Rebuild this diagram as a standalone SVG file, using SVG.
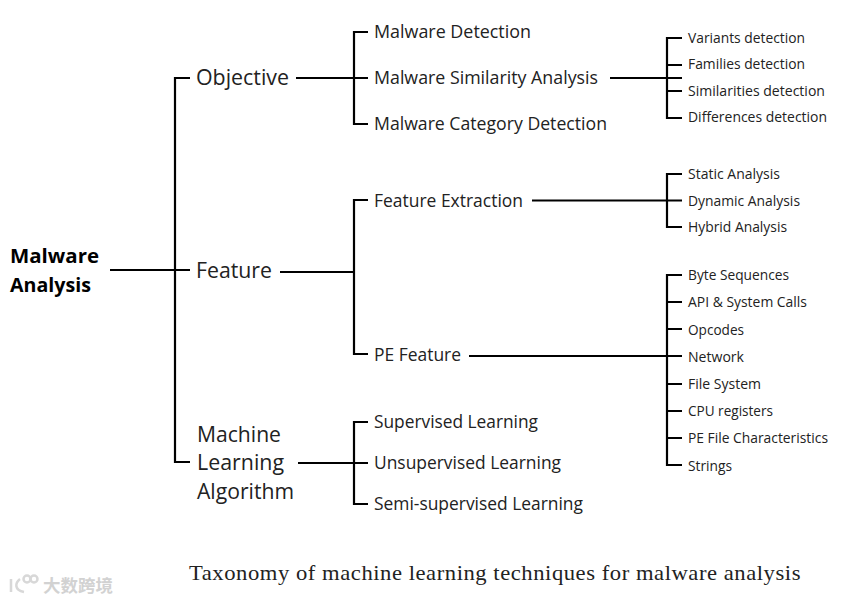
<svg xmlns="http://www.w3.org/2000/svg" width="858" height="602" viewBox="0 0 858 602">
<style>
text{font-family:"Open Sans","Noto Sans",sans-serif;fill:#222}
.a{font-size:21.5px}.b{font-size:18px}.c{font-size:14px}
.r{font-size:20px;font-weight:bold;fill:#000}
.cap{font-family:"Liberation Serif",serif;font-size:21px;letter-spacing:.5px;fill:#222}
.w{font-size:17.5px;fill:#d2d2d2;font-weight:bold;font-family:"Noto Sans CJK SC",sans-serif}
#connectors path{fill:none;stroke:#000;stroke-width:2.2}
#logo path,#logo circle{fill:none;stroke:#d8d8d8;stroke-width:2.5}
</style>
<rect width="858" height="602" fill="#fff"/>
<g id="connectors">
<path d="M110 270H190M190 78H175V462H190"/>
<path d="M296 78H368M368 32H354V124H368"/>
<path d="M280 272H354M368 200H354V354H368"/>
<path d="M298 463H368M368 422H354V504H368"/>
<path d="M610 78H682M682 38H667V118H682M667 65H682M667 91H682"/>
<path d="M532 200.500H682M682 174H667V227H682"/>
<path d="M469 356H682M682 275H667V465H682M667 302H682M667 329H682M667 384H682M667 411H682M667 438H682"/>
</g>
<g id="root"><text class="r" x="10" y="263" textLength="89" lengthAdjust="spacingAndGlyphs">Malware</text><text class="r" x="10" y="292" textLength="81" lengthAdjust="spacingAndGlyphs">Analysis</text></g>
<g id="objective"><text class="a" x="196" y="85" textLength="93" lengthAdjust="spacingAndGlyphs">Objective</text></g>
<g id="feature"><text class="a" x="196" y="278" textLength="76" lengthAdjust="spacingAndGlyphs">Feature</text></g>
<g id="ml"><text class="a" x="197" y="441.500" textLength="84" lengthAdjust="spacingAndGlyphs">Machine</text><text class="a" x="197" y="470" textLength="87" lengthAdjust="spacingAndGlyphs">Learning</text><text class="a" x="197" y="499" textLength="97" lengthAdjust="spacingAndGlyphs">Algorithm</text></g>
<g id="n1"><text class="b" x="374" y="37.500" textLength="157" lengthAdjust="spacingAndGlyphs">Malware Detection</text></g>
<g id="n2"><text class="b" x="374" y="84" textLength="224" lengthAdjust="spacingAndGlyphs">Malware Similarity Analysis</text></g>
<g id="n3"><text class="b" x="374" y="130" textLength="233" lengthAdjust="spacingAndGlyphs">Malware Category Detection</text></g>
<g id="n4"><text class="b" x="374" y="207" textLength="149" lengthAdjust="spacingAndGlyphs">Feature Extraction</text></g>
<g id="n5"><text class="b" x="374" y="360.500" textLength="87" lengthAdjust="spacingAndGlyphs">PE Feature</text></g>
<g id="n6"><text class="b" x="374" y="428" textLength="164" lengthAdjust="spacingAndGlyphs">Supervised Learning</text></g>
<g id="n7"><text class="b" x="374" y="469" textLength="187" lengthAdjust="spacingAndGlyphs">Unsupervised Learning</text></g>
<g id="n8"><text class="b" x="374" y="510" textLength="209" lengthAdjust="spacingAndGlyphs">Semi-supervised Learning</text></g>
<g id="l1"><text class="c" x="688" y="43" textLength="117" lengthAdjust="spacingAndGlyphs">Variants detection</text></g>
<g id="l2"><text class="c" x="688" y="69" textLength="117" lengthAdjust="spacingAndGlyphs">Families detection</text></g>
<g id="l3"><text class="c" x="688" y="96" textLength="137" lengthAdjust="spacingAndGlyphs">Similarities detection</text></g>
<g id="l4"><text class="c" x="688" y="122" textLength="139" lengthAdjust="spacingAndGlyphs">Differences detection</text></g>
<g id="l5"><text class="c" x="688" y="178.500" textLength="92" lengthAdjust="spacingAndGlyphs">Static Analysis</text></g>
<g id="l6"><text class="c" x="688" y="206" textLength="112" lengthAdjust="spacingAndGlyphs">Dynamic Analysis</text></g>
<g id="l7"><text class="c" x="688" y="232" textLength="99" lengthAdjust="spacingAndGlyphs">Hybrid Analysis</text></g>
<g id="l8"><text class="c" x="688" y="280" textLength="101" lengthAdjust="spacingAndGlyphs">Byte Sequences</text></g>
<g id="l9"><text class="c" x="688" y="307" textLength="119" lengthAdjust="spacingAndGlyphs">API &amp; System Calls</text></g>
<g id="l10"><text class="c" x="688" y="334.500" textLength="56" lengthAdjust="spacingAndGlyphs">Opcodes</text></g>
<g id="l11"><text class="c" x="688" y="361.500" textLength="56" lengthAdjust="spacingAndGlyphs">Network</text></g>
<g id="l12"><text class="c" x="688" y="389" textLength="73" lengthAdjust="spacingAndGlyphs">File System</text></g>
<g id="l13"><text class="c" x="688" y="416" textLength="85" lengthAdjust="spacingAndGlyphs">CPU registers</text></g>
<g id="l14"><text class="c" x="688" y="443" textLength="140" lengthAdjust="spacingAndGlyphs">PE File Characteristics</text></g>
<g id="l15"><text class="c" x="688" y="470.500" textLength="44" lengthAdjust="spacingAndGlyphs">Strings</text></g>
<text class="cap" x="189" y="580" textLength="612" lengthAdjust="spacingAndGlyphs">Taxonomy of machine learning techniques for malware analysis</text>
<g id="logo"><path d="M11 579V592M20 579C15 583 14 590 24 592"/><circle cx="27" cy="579" r="3.500"/><circle cx="34" cy="579" r="3.500"/></g>
<text class="w" x="43" y="592" textLength="70" lengthAdjust="spacingAndGlyphs">大数跨境</text>
</svg>
